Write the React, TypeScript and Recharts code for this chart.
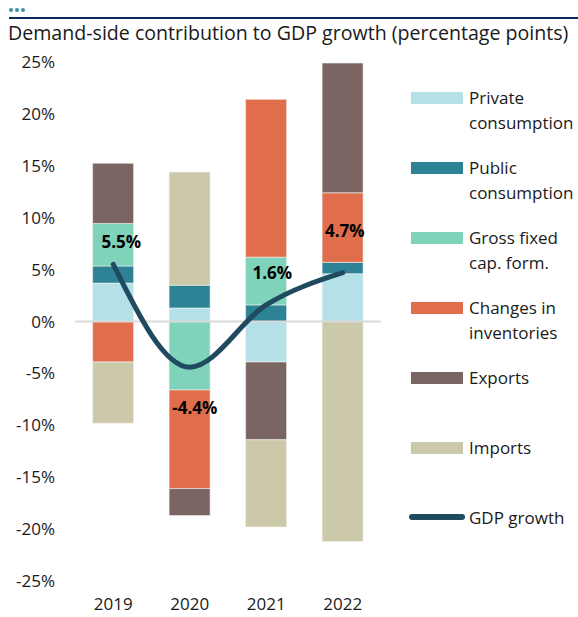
import React from 'react'
import {
  ComposedChart,
  Bar,
  Line,
  XAxis,
  YAxis,
  ReferenceLine,
  LabelList,
} from 'recharts'

const YEARS = ['2019', '2020', '2021', '2022']
const PRIVATE_CONS = [3.7, 1.3, -3.9, 4.6]
const PUBLIC_CONS = [1.65, 2.2, 1.6, 1.1]
const GFCF = [4.1, -6.6, 4.6, 0]
const INVENTORIES = [-3.9, -9.5, 15.2, 6.7]
const EXPORTS = [5.8, -2.6, -7.5, 12.5]
const IMPORTS = [-5.9, 10.9, -8.4, -21.2]
const GDP_GROWTH = [5.5, -4.4, 1.6, 4.7]
const Y_TICKS = [-25, -20, -15, -10, -5, 0, 5, 10, 15, 20, 25]

const SERIES = [
  { key: 'private', name: ['Private', 'consumption'], color: '#b4e0e8' },
  { key: 'public', name: ['Public', 'consumption'], color: '#2e8296' },
  { key: 'gfcf', name: ['Gross fixed', 'cap. form.'], color: '#80d3bb' },
  { key: 'inventories', name: ['Changes in', 'inventories'], color: '#e06d4c' },
  { key: 'exports', name: ['Exports'], color: '#7a6562' },
  { key: 'imports', name: ['Imports'], color: '#cbc9a9' },
]
const LINE_COLOR = '#1f4a5f'
const FONT = '"Open Sans", "Noto Sans", sans-serif'

// where each GDP label sits relative to its point
const LABEL_SHIFT = [
  { dx: 8, dy: -23 },
  { dx: 5, dy: 40 },
  { dx: 6, dy: -32 },
  { dx: 2, dy: -42 },
]

const data = YEARS.map((year, i) => ({
  year,
  private: PRIVATE_CONS[i],
  public: PUBLIC_CONS[i],
  gfcf: GFCF[i],
  inventories: INVENTORIES[i],
  exports: EXPORTS[i],
  imports: IMPORTS[i],
  gdp: GDP_GROWTH[i],
}))

const GdpLabel = (props: any) => {
  const { x, y, value, index } = props
  const s = LABEL_SHIFT[index] || { dx: 0, dy: -20 }
  return (
    <text
      x={x + s.dx}
      y={y + s.dy}
      textAnchor="middle"
      dominantBaseline="central"
      fontFamily={FONT}
      fontSize={17}
      fontWeight={700}
      fill="#000"
    >
      {`${value.toFixed(1)}%`}
    </text>
  )
}

function LegendBox() {
  const rowTop = 85
  const step = 70
  return (
    <div style={{ position: 'absolute', left: 0, top: 0, fontFamily: FONT, fontSize: 17, color: '#1a1a1a' }}>
      {SERIES.map((s, i) => (
        <div key={s.key} style={{ position: 'absolute', left: 411, top: rowTop + i * step, width: 170 }}>
          <div style={{ position: 'absolute', left: 0, top: 7, width: 52, height: 12, background: s.color }} />
          <div style={{ position: 'absolute', left: 58, top: 0, lineHeight: '25px', whiteSpace: 'nowrap' }}>
            {s.name.map((n) => (
              <div key={n}>{n}</div>
            ))}
          </div>
        </div>
      ))}
      <div style={{ position: 'absolute', left: 411, top: rowTop + 6 * step }}>
        <div style={{ position: 'absolute', left: -2, top: 9, width: 56, height: 6, borderRadius: 3, background: LINE_COLOR }} />
        <div style={{ position: 'absolute', left: 58, top: 0, lineHeight: '25px', whiteSpace: 'nowrap' }}>GDP growth</div>
      </div>
    </div>
  )
}

export default function App() {
  return (
    <div style={{ position: 'absolute', left: 0, top: 0, width: 578, height: 617, background: '#fff', overflow: 'hidden' }}>
      <div style={{ position: 'absolute', left: 9, top: 8, display: 'flex', gap: 2.5 }}>
        {[0, 1, 2].map((d) => (
          <div key={d} style={{ width: 3.5, height: 3.5, borderRadius: 2, background: '#3d8fa6' }} />
        ))}
      </div>
      <div style={{ position: 'absolute', left: 9, top: 17, width: 569, height: 2, background: '#0d2c5e' }} />
      <div
        style={{
          position: 'absolute',
          left: 8,
          top: 20,
          fontFamily: FONT,
          fontSize: 19.6,
          lineHeight: '26px',
          color: '#1a1a1a',
          whiteSpace: 'nowrap',
        }}
      >
        Demand-side contribution to GDP growth (percentage points)
      </div>
      <div style={{ position: 'absolute', left: 0, top: 0 }}>
        <ComposedChart
          width={578}
          height={617}
          data={data}
          stackOffset="sign"
          barCategoryGap="23%"
          margin={{ top: 62, right: 197, bottom: 0, left: 0 }}
        >
          <XAxis
            dataKey="year"
            axisLine={false}
            tickLine={false}
            height={36}
            tick={{ fill: '#1a1a1a', fontSize: 17, fontFamily: FONT, dy: 9 }}
          />
          <YAxis
            type="number"
            domain={[-25, 25]}
            ticks={Y_TICKS}
            width={75}
            axisLine={false}
            tickLine={false}
            tickSize={0}
            tickMargin={20}
            tickFormatter={(v: number) => `${v}%`}
            tick={{ fill: '#1a1a1a', fontSize: 17, fontFamily: FONT }}
          />
          <ReferenceLine y={0} stroke="#d9d9d9" strokeWidth={2} />
          {SERIES.map((s) => (
            <Bar
              key={s.key}
              dataKey={s.key}
              stackId="a"
              fill={s.color}
              stroke="#f4f4ee"
              strokeWidth={0.6}
              isAnimationActive={false}
            />
          ))}
          <Line
            dataKey="gdp"
            type="monotone"
            stroke={LINE_COLOR}
            strokeWidth={5}
            strokeLinecap="round"
            dot={false}
            activeDot={false}
            isAnimationActive={false}
          >
            <LabelList dataKey="gdp" content={GdpLabel} />
          </Line>
        </ComposedChart>
      </div>
      <LegendBox />
    </div>
  )
}
